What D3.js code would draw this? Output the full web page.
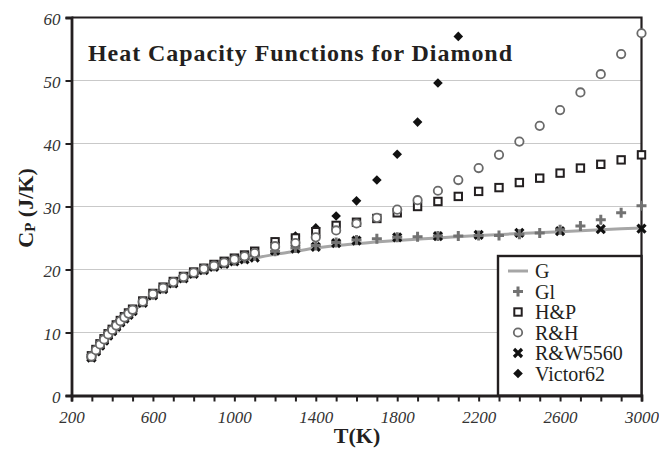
<!DOCTYPE html>
<html>
<head>
<meta charset="utf-8">
<script src="https://cdn.jsdelivr.net/npm/d3@7"></script>
<style>
  html, body { margin: 0; padding: 0; background: #fff; }
  svg { display: block; }
</style>
</head>
<body>
<svg id="chart" width="659" height="459"></svg>
<script>
const W = 659;
const H = 459;

// temperature grids (K)
const T_LOW = [298, 320, 340, 360, 380, 400, 420, 440, 460, 480, 500, 550, 600, 650, 700, 750, 800, 850, 900, 950, 1000, 1050, 1100];
const T_HIGH = [1200, 1300, 1400, 1500, 1600, 1700, 1800, 1900, 2000, 2100, 2200, 2300, 2400, 2500, 2600, 2700, 2800, 2900, 3000];
const T_RW_HIGH = [1200, 1300, 1400, 1500, 1600, 1800, 2000, 2200, 2400, 2600, 2800, 3000];
const T_VIC_HIGH = [1200, 1300, 1400, 1500, 1600, 1700, 1800, 1900, 2000, 2100];
const T_G = [298, 350, 400, 450, 500, 600, 700, 800, 900, 1000, 1100, 1200, 1300, 1400, 1500, 1600, 1800, 2000, 2200, 2400, 2600, 2800, 3000];

// Cp values (J/K)
const G_CP = [6.1, 8.4, 10.3, 11.9, 13.3, 15.8, 17.7, 19.1, 20.2, 21.1, 21.8, 22.4, 22.9, 23.4, 23.8, 24.1, 24.6, 25.0, 25.4, 25.7, 26.0, 26.3, 26.6];

const GL_LOW = [6.1, 7.1, 8.0, 8.8, 9.6, 10.3, 11.0, 11.7, 12.3, 12.9, 13.5, 14.8, 16.0, 17.0, 17.9, 18.7, 19.4, 20.0, 20.5, 21.0, 21.4, 21.8, 22.2];
const GL_HIGH = [22.9, 23.4, 23.8, 24.3, 24.7, 24.9, 25.1, 25.2, 25.3, 25.3, 25.4, 25.4, 25.6, 25.8, 26.3, 26.9, 27.9, 29.0, 30.1];

const HP_LOW = [6.3, 7.3, 8.2, 9.0, 9.8, 10.5, 11.2, 11.9, 12.5, 13.1, 13.7, 15.0, 16.2, 17.2, 18.1, 18.9, 19.6, 20.2, 20.8, 21.3, 21.8, 22.3, 22.9];
const HP_HIGH = [24.4, 25.0, 26.0, 27.0, 27.5, 28.1, 29.0, 30.0, 30.8, 31.6, 32.4, 33.0, 33.8, 34.5, 35.3, 36.1, 36.7, 37.4, 38.2];

const RH_LOW = [6.2, 7.2, 8.1, 8.9, 9.7, 10.4, 11.1, 11.8, 12.4, 13.0, 13.6, 14.9, 16.1, 17.1, 18.0, 18.8, 19.5, 20.1, 20.6, 21.1, 21.6, 22.1, 22.6];
const RH_HIGH = [23.7, 24.2, 25.1, 26.2, 27.3, 28.2, 29.5, 31.0, 32.5, 34.2, 36.1, 38.2, 40.3, 42.8, 45.3, 48.1, 51.0, 54.2, 57.5];

const RW_LOW = [6.0, 7.0, 7.9, 8.7, 9.5, 10.2, 10.9, 11.6, 12.2, 12.8, 13.4, 14.7, 15.9, 16.9, 17.8, 18.6, 19.3, 19.9, 20.4, 20.9, 21.3, 21.6, 21.9];
const RW_HIGH = [23.0, 23.3, 23.6, 24.2, 24.6, 25.1, 25.3, 25.5, 25.8, 26.1, 26.4, 26.5];

const VIC_LOW = [6.2, 7.2, 8.1, 8.9, 9.7, 10.4, 11.1, 11.8, 12.4, 13.0, 13.6, 14.9, 16.1, 17.1, 18.0, 18.8, 19.5, 20.1, 20.6, 21.1, 21.6, 22.1, 22.6];
const VIC_HIGH = [24.3, 25.3, 26.6, 28.5, 30.9, 34.2, 38.3, 43.4, 49.6, 57.0];

const X_TICKS = [200, 300, 400, 500, 600, 700, 800, 900, 1000, 1100, 1200, 1300, 1400, 1500, 1600, 1700, 1800, 1900, 2000, 2100, 2200, 2300, 2400, 2500, 2600, 2700, 2800, 2900, 3000];
const X_LABELS = [200, 600, 1000, 1400, 1800, 2200, 2600, 3000];
const Y_TICKS = [0, 10, 20, 30, 40, 50, 60];
const Y_GRID = [10, 20, 30, 40, 50];

const TITLE = "Heat Capacity Functions for Diamond";

const DARK = "#231f20";
const SERIF = "Liberation Serif, DejaVu Serif, serif";

function pairs(ts, vs) {
  return ts.map((t, i) => ({ t, v: vs[i] }));
}

const svg = d3.select("#chart");

const x = d3.scaleLinear().domain([200, 3000]).range([71.5, 641.5]);
const y = d3.scaleLinear().domain([0, 60]).range([395.5, 17.5]);

// gridlines
svg.append("g")
  .selectAll("line")
  .data(Y_GRID)
  .enter()
  .append("line")
  .attr("x1", x(200))
  .attr("x2", x(3000))
  .attr("y1", (d) => y(d))
  .attr("y2", (d) => y(d))
  .attr("stroke", "#c9c9c9")
  .attr("stroke-width", 1.2);

// frame top + right
svg.append("path")
  .attr("d", `M${x(200)},${y(60)}H${x(3000)}V${y(0)}`)
  .attr("fill", "none")
  .attr("stroke", DARK)
  .attr("stroke-width", 2.2);

function styleAxis(g) {
  g.attr("font-family", SERIF).attr("font-size", 17);
  g.select(".domain").attr("stroke", DARK).attr("stroke-width", 2.8);
  g.selectAll(".tick line").attr("stroke", DARK).attr("stroke-width", 2);
  g.selectAll(".tick text")
    .attr("font-family", SERIF)
    .attr("font-style", "italic")
    .attr("font-size", 17)
    .attr("fill", "#333");
}

// axes
const xAxis = svg.append("g")
  .attr("transform", `translate(0,${y(0)})`)
  .call(
    d3.axisBottom(x)
      .tickValues(X_TICKS)
      .tickSize(6)
      .tickPadding(6)
      .tickFormat((d) => (X_LABELS.includes(d) ? d : "")),
  );
styleAxis(xAxis);
xAxis.selectAll(".tick text").attr("dy", "0.9em");

const yAxis = svg.append("g")
  .attr("transform", `translate(${x(200)},0)`)
  .call(d3.axisLeft(y).tickValues(Y_TICKS).tickSize(6).tickPadding(5));
styleAxis(yAxis);
yAxis.selectAll(".tick text").attr("dy", "0.4em");

// title
svg.append("text")
  .attr("x", 88)
  .attr("y", 61)
  .attr("font-family", SERIF)
  .attr("font-weight", "bold")
  .attr("font-size", 24)
  .attr("textLength", 424)
  .attr("lengthAdjust", "spacing")
  .attr("fill", DARK)
  .text(TITLE);

// axis titles
svg.append("text")
  .attr("x", 357)
  .attr("y", 443)
  .attr("text-anchor", "middle")
  .attr("font-family", SERIF)
  .attr("font-weight", "bold")
  .attr("font-size", 22)
  .attr("fill", DARK)
  .text("T(K)");

const yTitle = svg.append("text")
  .attr("transform", "translate(33,208) rotate(-90)")
  .attr("text-anchor", "middle")
  .attr("font-family", SERIF)
  .attr("font-weight", "bold")
  .attr("font-size", 22)
  .attr("fill", DARK);
yTitle.append("tspan").text("C");
yTitle.append("tspan").attr("font-size", 15).attr("dy", 2).text("P");
yTitle.append("tspan").attr("dy", -2).text(" (J/K)");

// marker painters
const markers = {
  G: (g) => g.append("path").attr("d", "M-10,0H10").attr("stroke", "#a6a6a6").attr("stroke-width", 3),
  Gl: (g) => g.append("path").attr("d", "M-5,0H5M0,-5V5").attr("stroke", "#727272").attr("stroke-width", 3),
  HP: (g) => g.append("rect").attr("x", -3.7).attr("y", -3.7).attr("width", 7.4).attr("height", 7.4)
    .attr("fill", "#fff").attr("stroke", DARK).attr("stroke-width", 2),
  RH: (g) => g.append("circle").attr("r", 4.2).attr("fill", "#fff").attr("stroke", "#6a6a6a").attr("stroke-width", 1.8),
  RW: (g) => g.append("path").attr("d", "M-4,-4L4,4M4,-4L-4,4").attr("stroke", "#111").attr("stroke-width", 3.2),
  VIC: (g) => g.append("path").attr("d", "M0,-4.8L4.8,0L0,4.8L-4.8,0Z").attr("fill", "#111"),
};

// G line
const line = d3.line()
  .x((d) => x(d.t))
  .y((d) => y(d.v))
  .curve(d3.curveMonotoneX);

svg.append("path")
  .datum(pairs(T_G, G_CP))
  .attr("d", line)
  .attr("fill", "none")
  .attr("stroke", "#a6a6a6")
  .attr("stroke-width", 3);

function drawSeries(data, key) {
  const g = svg.append("g");
  g.selectAll("g")
    .data(data)
    .enter()
    .append("g")
    .attr("transform", (d) => `translate(${x(d.t)},${y(d.v)})`)
    .each(function () {
      markers[key](d3.select(this));
    });
}

drawSeries(pairs(T_LOW.concat(T_VIC_HIGH), VIC_LOW.concat(VIC_HIGH)), "VIC");
drawSeries(pairs(T_LOW.concat(T_RW_HIGH), RW_LOW.concat(RW_HIGH)), "RW");
drawSeries(pairs(T_LOW.concat(T_HIGH), GL_LOW.concat(GL_HIGH)), "Gl");
drawSeries(pairs(T_LOW.concat(T_HIGH), HP_LOW.concat(HP_HIGH)), "HP");
drawSeries(pairs(T_LOW.concat(T_HIGH), RH_LOW.concat(RH_HIGH)), "RH");

// legend
const LEGEND = [
  { key: "G", label: "G" },
  { key: "Gl", label: "Gl" },
  { key: "HP", label: "H&P" },
  { key: "RH", label: "R&H" },
  { key: "RW", label: "R&W5560" },
  { key: "VIC", label: "Victor62" },
];

const lg = svg.append("g").attr("transform", "translate(498,256)");
lg.append("rect")
  .attr("width", 143.5)
  .attr("height", 139.5)
  .attr("fill", "#fff")
  .attr("stroke", DARK)
  .attr("stroke-width", 2.4);

const rows = lg.selectAll("g.row")
  .data(LEGEND)
  .enter()
  .append("g")
  .attr("class", "row")
  .attr("transform", (d, i) => `translate(20,${15 + i * 20.5})`);

rows.each(function (d) {
  markers[d.key](d3.select(this));
});

rows.append("text")
  .attr("x", 17)
  .attr("y", 7)
  .attr("font-family", SERIF)
  .attr("font-size", 20)
  .attr("fill", DARK)
  .text((d) => d.label);
</script>
</body>
</html>
